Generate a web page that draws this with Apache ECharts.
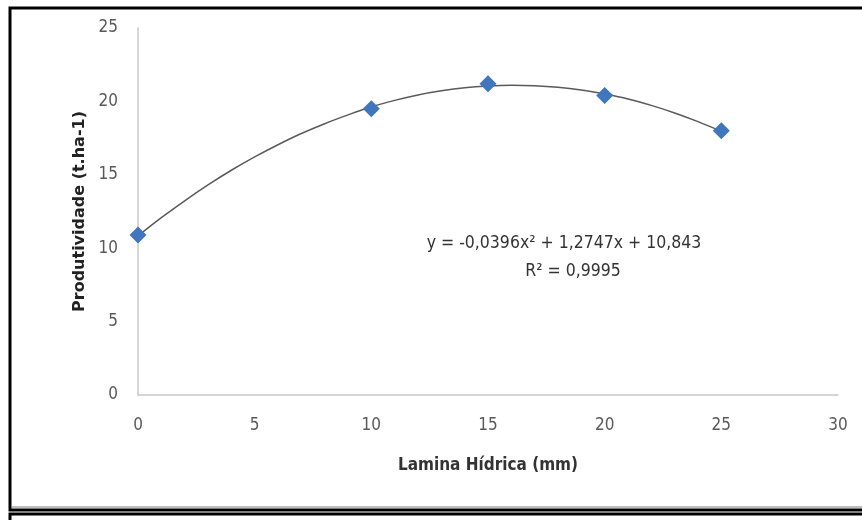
<!DOCTYPE html>
<html>
<head>
<meta charset="utf-8">
<style>
  html, body { margin: 0; padding: 0; background: #fff; }
  #chart { width: 862px; height: 520px; }
</style>
<script src="https://cdn.jsdelivr.net/npm/echarts@6/dist/echarts.min.js"></script>
</head>
<body>
<div id="chart"></div>
<script>
  // pontos observados
  const laminas = [0, 10, 15, 20, 25]
  const produtividade = [10.9, 19.5, 21.2, 20.4, 18.0]

  // linha de tendência (de 1 em 1 mm)
  const tendX = [0, 1, 2, 3, 4, 5, 6, 7, 8, 9, 10, 11, 12, 13, 14, 15, 16, 17, 18, 19, 20, 21, 22, 23, 24, 25]
  const tendY = [10.84, 12.08, 13.23, 14.31, 15.31, 16.22, 17.05, 17.81, 18.48, 19.08, 19.63, 20.07, 20.44, 20.72, 20.93, 21.05, 21.10, 21.07, 20.96, 20.77, 20.5, 20.17, 19.73, 19.21, 18.62, 17.96]

  const equacao = 'y = -0,0396x² + 1,2747x + 10,843'
  const r2 = 'R² = 0,9995'

  const labelFont = '"Liberation Sans Narrow", "DejaVu Sans Condensed", "Noto Sans", sans-serif'

  const chart = echarts.init(document.getElementById('chart'))

  const option = {
    animation: false,
    backgroundColor: '#fff',
    grid: {
      left: 138,
      right: 24,
      top: 28,
      bottom: 125,
    },
    xAxis: {
      type: 'value',
      min: 0,
      max: 30,
      interval: 5,
      name: 'Lamina Hídrica (mm)',
      nameLocation: 'middle',
      nameGap: 62,
      nameTextStyle: {
        color: '#333',
        fontFamily: labelFont,
        fontWeight: 'bold',
        fontSize: 17,
      },
      axisLine: { lineStyle: { color: '#c8c8c8', width: 1.5 } },
      axisTick: { show: false },
      splitLine: { show: false },
      axisLabel: {
        color: '#595959',
        fontFamily: labelFont,
        fontSize: 17,
        margin: 22,
      },
    },
    yAxis: {
      type: 'value',
      min: 0,
      max: 25,
      interval: 5,
      name: 'Produtividade (t.ha-1)',
      nameLocation: 'middle',
      nameGap: 50,
      nameTextStyle: {
        color: '#222',
        fontFamily: '"DejaVu Sans", sans-serif',
        fontWeight: 'bold',
        fontSize: 16,
      },
      axisLine: { show: true, lineStyle: { color: '#c8c8c8', width: 1.5 } },
      axisTick: { show: false },
      splitLine: { show: false },
      axisLabel: {
        color: '#595959',
        fontFamily: labelFont,
        fontSize: 17,
        margin: 20,
      },
    },
    graphic: [
      // moldura
      { type: 'rect', shape: { x: 10, y: 8, width: 870, height: 502 },
        style: { fill: 'none', stroke: '#000', lineWidth: 3 }, silent: true },
      { type: 'line', shape: { x1: 12, y1: 507, x2: 862, y2: 507 },
        style: { stroke: '#bdbdbd', lineWidth: 2 }, silent: true },
      { type: 'rect', shape: { x: 10, y: 514, width: 870, height: 20 },
        style: { fill: 'none', stroke: '#000', lineWidth: 3 }, silent: true },
      {
        type: 'text', x: 564, y: 243,
        style: { text: equacao, fill: '#333', font: '17.5px ' + labelFont, align: 'center', verticalAlign: 'middle' },
      },
      {
        type: 'text', x: 573, y: 271,
        style: { text: r2, fill: '#333', font: '17.5px ' + labelFont, align: 'center', verticalAlign: 'middle' },
      },
    ],
    series: [
      {
        name: 'Tendência',
        type: 'line',
        data: tendX.map((x, i) => [x, tendY[i]]),
        smooth: 0.3,
        showSymbol: false,
        lineStyle: { color: '#5a5a5a', width: 1.5 },
        z: 2,
      },
      {
        name: 'Produtividade',
        type: 'scatter',
        data: laminas.map((x, i) => [x, produtividade[i]]),
        symbol: 'diamond',
        symbolSize: [17, 17],
        itemStyle: { color: '#3f76bd', opacity: 1 },
        z: 3,
      },
    ],
  }

  chart.setOption(option)
</script>
</body>
</html>
